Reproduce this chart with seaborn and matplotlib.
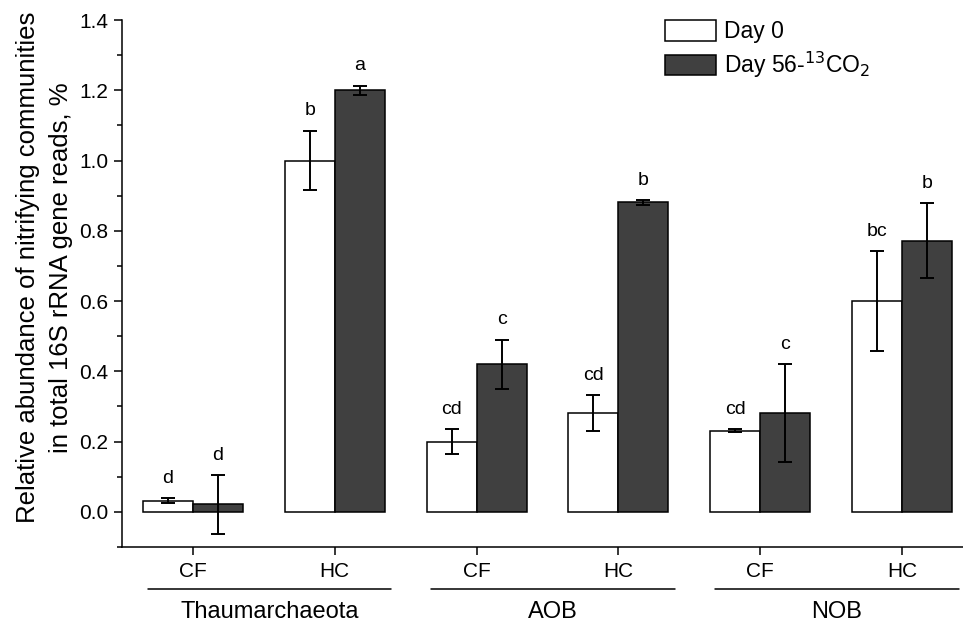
import numpy as np
import pandas as pd
import seaborn as sns
import matplotlib.pyplot as plt
from matplotlib.patches import Patch
import matplotlib.transforms as mtransforms

sns.set_style("white")
plt.rcParams['font.family'] = ['Liberation Sans', 'DejaVu Sans']
plt.rcParams['text.color'] = 'black'
plt.rcParams['axes.labelcolor'] = 'black'
plt.rcParams['xtick.color'] = 'black'
plt.rcParams['ytick.color'] = 'black'

groups = ["Thaumarchaeota", "AOB", "NOB"]
sites = ["CF", "HC"]
days = ["Day 0", "Day 56-$^{13}$CO$_2$"]

# values per (group, site), in order Thaum CF, Thaum HC, AOB CF, AOB HC, NOB CF, NOB HC
day0 = [0.032, 1.00, 0.200, 0.281, 0.231, 0.600]
day0_err = [0.007, 0.085, 0.035, 0.051, 0.004, 0.142]
day56 = [0.021, 1.20, 0.420, 0.881, 0.281, 0.772]
day56_err = [0.084, 0.013, 0.070, 0.007, 0.140, 0.106]
letters0 = ["d", "b", "cd", "cd", "cd", "bc"]
letters56 = ["d", "a", "c", "b", "c", "b"]

cats = [g + " " + s for g in groups for s in sites]
df = pd.DataFrame({
    "cat": cats * 2,
    "day": [days[0]] * 6 + [days[1]] * 6,
    "val": day0 + day56,
})

fig = plt.figure(figsize=(9.63, 6.27), dpi=100)
ax = fig.add_axes([122 / 963, 1 - 547 / 627, 1 - 122 / 963, 527 / 627])

sns.barplot(data=df, x="cat", y="val", hue="day", order=cats, hue_order=days,
            palette=["white", "#404040"], edgecolor="black", linewidth=1.1,
            width=0.705, gap=0, errorbar=None, legend=False, ax=ax)

for cont, vals, errs, labs in zip(ax.containers, [day0, day56], [day0_err, day56_err],
                                  [letters0, letters56]):
    xs = [b.get_x() + b.get_width() / 2 for b in cont]
    ax.errorbar(xs, vals, yerr=errs, fmt="none", ecolor="black", elinewidth=1.4,
                capsize=5.3, capthick=1.4, zorder=5)
    for x, v, e, t in zip(xs, vals, errs, labs):
        ax.annotate(t, (x, v + e), xytext=(0, 11), textcoords="offset points",
                    ha="center", va="baseline", fontsize=14)

ax.set_xlim(-0.5, 5.43)
ax.set_ylim(-0.1, 1.4)
ax.set_yticks(np.arange(0, 1.41, 0.2))
ax.set_yticks(np.arange(-0.1, 1.41, 0.1), minor=True)
ax.set_yticklabels([f"{v:.1f}" for v in np.arange(0, 1.41, 0.2)])
ax.set_xticks(range(6))
ax.set_xticklabels(sites * 3)
ax.tick_params(axis="both", which="major", direction="out", length=6, width=1.1,
               labelsize=15, pad=4, left=True, bottom=True)
ax.tick_params(axis="y", which="minor", direction="out", length=3.5, width=1.1, left=True)
ax.tick_params(axis="x", pad=5)
for s in ["top", "right"]:
    ax.spines[s].set_visible(False)
for s in ["left", "bottom"]:
    ax.spines[s].set_linewidth(1.1)
    ax.spines[s].set_color("black")

ax.set_xlabel("")
ax.set_ylabel("Relative abundance of nitrifying communities\nin total 16S rRNA gene reads, %",
              fontsize=18.5, linespacing=1.5)
ax.yaxis.set_label_coords(-0.058, 0.53)

# group brackets under the site labels
trans = mtransforms.blended_transform_factory(ax.transData, ax.transAxes)
for i, g in enumerate(groups):
    x0 = 2 * i - 0.32
    x1 = 2 * i + 1 + 0.40
    ax.plot([x0, x1], [-0.0797, -0.0797], color="black", lw=1.1,
            transform=trans, clip_on=False)
    ax.text((x0 + x1) / 2, -0.123, g, transform=trans, ha="center", va="center",
            fontsize=17)

handles = [Patch(facecolor="white", edgecolor="black", linewidth=1.1),
           Patch(facecolor="#404040", edgecolor="black", linewidth=1.1)]
ax.legend(handles, days, loc="upper left", bbox_to_anchor=(0.646, 1.0), frameon=False,
          fontsize=16.5, handlelength=2.2, handleheight=1.0, handletextpad=0.35,
          labelspacing=0.3, borderpad=0, borderaxespad=0)

fig.savefig("out.png", dpi=100)
